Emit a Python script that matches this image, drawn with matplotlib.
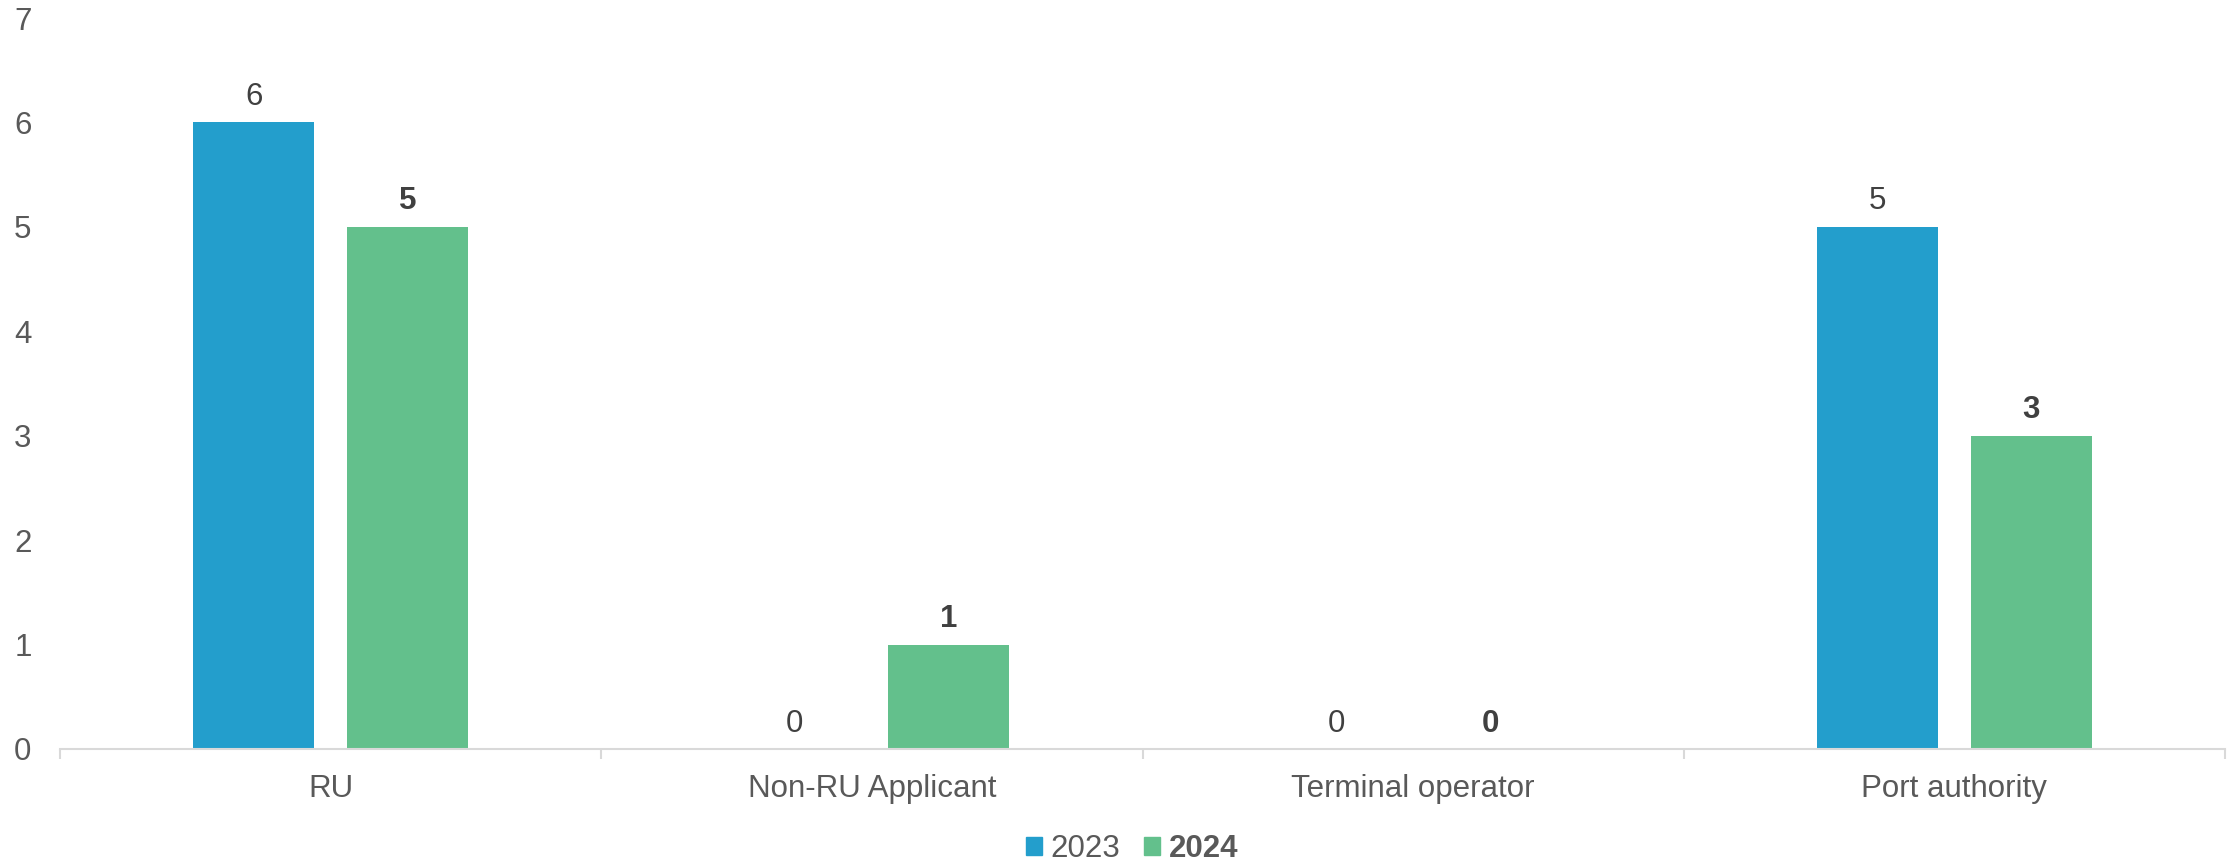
import numpy as np
import matplotlib.pyplot as plt
from matplotlib.patches import Patch
from matplotlib.ticker import FixedLocator

plt.rcParams['font.family'] = ['Liberation Sans', 'DejaVu Sans']

categories = ["RU", "Non-RU Applicant", "Terminal operator", "Port authority"]
years = ["2023", "2024"]
values_2023 = [6, 0, 0, 5]
values_2024 = [5, 1, 0, 3]

blue = "#239ECC"
green = "#63C08C"
text_grey = "#595959"
label_dark = "#404040"
axis_grey = "#D9D9D9"
fs = 22.5

fig = plt.figure(figsize=(22.34, 8.65), dpi=100)
ax = fig.add_axes([60 / 2234, 1 - 749 / 865, (2225 - 60) / 2234, (749 - 18) / 865])

x = np.arange(len(categories))
width = 0.2236
offset = 0.1423
bars1 = ax.bar(x - offset, values_2023, width, color=blue)
bars2 = ax.bar(x + offset, values_2024, width, color=green)

# value labels: 2023 regular, 2024 bold
for bar, v in zip(bars1, values_2023):
    ax.annotate(str(v), (bar.get_x() + bar.get_width() / 2, v),
                xytext=(0, 7.5), textcoords="offset points",
                ha="center", va="bottom", fontsize=fs, color=label_dark)
for bar, v in zip(bars2, values_2024):
    ax.annotate(str(v), (bar.get_x() + bar.get_width() / 2, v),
                xytext=(0, 7.5), textcoords="offset points",
                ha="center", va="bottom", fontsize=fs, color=label_dark,
                fontweight="bold")

ax.set_xlim(-0.5, len(categories) - 0.5)
ax.set_ylim(0, 7)
ax.set_yticks(range(8))
ax.set_xticks(x)
ax.set_xticklabels(categories)
ax.xaxis.set_minor_locator(FixedLocator(np.arange(-0.5, len(categories), 1.0)))

ax.tick_params(axis="y", length=0, pad=20.5, labelsize=fs, labelcolor=text_grey)
ax.tick_params(axis="x", which="major", length=0, pad=18, labelsize=fs, labelcolor=text_grey)
ax.tick_params(axis="x", which="minor", length=7.2, width=1.5, color=axis_grey, direction="out")

for side in ["left", "right", "top"]:
    ax.spines[side].set_visible(False)
ax.spines["bottom"].set_color(axis_grey)
ax.spines["bottom"].set_linewidth(1.5)

handles = [Patch(color=blue, label=years[0]), Patch(color=green, label=years[1])]
leg = fig.legend(handles=handles, loc="center", bbox_to_anchor=(1132 / 2234, 1 - 849 / 865),
                 ncol=2, frameon=False, fontsize=fs, handlelength=0.52, handleheight=0.52,
                 handletextpad=0.26, columnspacing=0.77, borderaxespad=0)
for t in leg.get_texts():
    t.set_color(text_grey)
leg.get_texts()[1].set_fontweight("bold")

fig.savefig("out.png", dpi=100, facecolor="white")
